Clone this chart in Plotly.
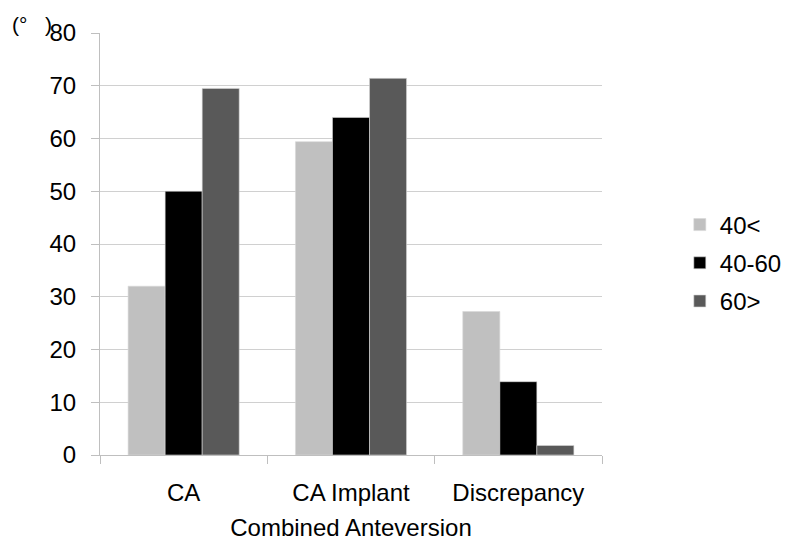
import plotly.graph_objects as go

categories = ["CA", "CA Implant", "Discrepancy"]
series_names = ["40<", "40-60", "60>"]
values_lt40 = [32.0, 59.4, 27.2]
values_40_60 = [50.0, 64.0, 13.9]
values_gt60 = [69.5, 71.4, 1.8]
colors = ["#C0C0C0", "#000000", "#595959"]
y_ticks = [0, 10, 20, 30, 40, 50, 60, 70, 80]

FONT = "Liberation Sans, Arial, sans-serif"

fig = go.Figure()
for name, vals, col in zip(series_names, [values_lt40, values_40_60, values_gt60], colors):
    fig.add_trace(go.Bar(
        x=categories, y=vals, name=name, legendgroup=name,
        marker=dict(color=col, line=dict(color="#D9D9D9", width=0.6)),
    ))

fig.update_layout(
    width=784, height=538,
    margin=dict(l=92, r=190, t=25, b=91, autoexpand=False),
    paper_bgcolor="white", plot_bgcolor="white",
    barmode="group", bargap=0.336, bargroupgap=0,
    font=dict(family=FONT, size=24, color="#000000"),
    showlegend=True,
    legend=dict(
        x=1.155, y=0.455, xanchor="left", yanchor="middle",
        font=dict(family=FONT, size=24, color="#000000"),
        itemwidth=30, tracegroupgap=4, traceorder="grouped",
        bgcolor="rgba(0,0,0,0)",
    ),
    xaxis=dict(
        automargin=False,
        showline=True, linecolor="#BFBFBF", linewidth=1,
        ticks="outside", tickson="boundaries", ticklen=8, tickcolor="#BFBFBF",
        ticklabelstandoff=16,
        tickfont=dict(family=FONT, size=24),
        title=dict(text="Combined Anteversion", font=dict(family=FONT, size=24), standoff=14),
        showgrid=False,
    ),
    yaxis=dict(
        automargin=False,
        range=[0, 80], tickvals=y_ticks,
        showline=True, linecolor="#BFBFBF", linewidth=1,
        ticks="outside", ticklen=8, tickcolor="#BFBFBF",
        ticklabelstandoff=10,
        showgrid=True, gridcolor="#D0D0D0", gridwidth=1,
        tickfont=dict(family=FONT, size=24),
        zeroline=False,
    ),
    annotations=[dict(
        text="(°   )", xref="paper", yref="paper",
        x=-90/502, y=1 + 22/422, xanchor="left", yanchor="top",
        showarrow=False, font=dict(family=FONT, size=21, color="#000000"),
    )],
)

fig.write_html("out.html")
